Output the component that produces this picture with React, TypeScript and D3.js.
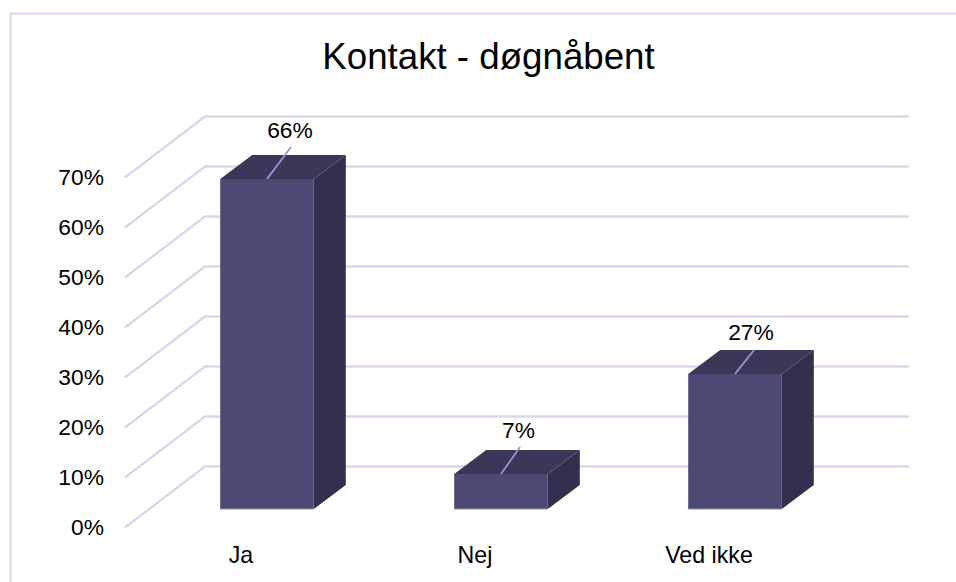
import React from "react";
import * as d3 from "d3";

const categories = ["Ja", "Nej", "Ved ikke"];
const values = [66, 7, 27];
const labels = ["66%", "7%", "27%"];
const ticks = [0, 10, 20, 30, 40, 50, 60, 70];
const title = "Kontakt - døgnåbent";

const W = 956;
const H = 582;
const FONT = "'Liberation Sans', Arial, sans-serif";
const GRID = "#d9d6ee";

export default function App() {
  const x = d3.scaleBand<string>().domain(categories).range([150, 852]).paddingInner(0.6).paddingOuter(0.3);
  // Height of a value in pixels, shared by the three depth planes of the chart.
  const h = d3.scaleLinear().domain([0, 70]).range([0, 350]);
  const frontY = (v: number) => 527.5 - h(v);
  const backY = (v: number) => 466.5 - h(v);
  const barY = (v: number) => 509 - h(v);
  const wallLeft = 205;
  const wallRight = 909;
  const floorLeft = 125;
  const depthX = 32;
  const depthY = -24;
  const bw = x.bandwidth();
  const gridPath = d3.line<[number, number]>();
  const leaderOffset = [[24, -32], [19, -27], [19, -24]];
  const labelOffset = [[23, -41], [17.5, -36], [16, -34]];

  return (
    <svg
      width={W}
      height={H}
      viewBox={`0 0 ${W} ${H}`}
      style={{ position: "absolute", left: 0, top: 0, display: "block", background: "#fff" }}
      fontFamily={FONT}
    >
      <path d={`M10.5,${H} V13.5 H${W}`} fill="none" stroke={GRID} strokeWidth={2} />
      <text x={488.5} y={69} textAnchor="middle" fontSize={36.7} fill="#000">{title}</text>

      {ticks.map((t) => (
        <g key={t}>
          <path
            d={gridPath([[floorLeft, frontY(t)], [wallLeft, backY(t)], [wallRight, backY(t)]]) ?? ""}
            fill="none"
            stroke={GRID}
            strokeWidth={2.4}
          />
          <text x={104} y={frontY(t) + 7.5} textAnchor="end" fontSize={22.8} fill="#000">{t}%</text>
        </g>
      ))}

      {categories.map((c, i) => {
        const x0 = x(c) as number;
        const x1 = x0 + bw;
        const base = barY(0);
        const top = barY(values[i]);
        const cx = x0 + bw / 2;
        return (
          <g key={c}>
            <polygon
              points={`${x1},${top} ${x1 + depthX},${top + depthY} ${x1 + depthX},${base + depthY} ${x1},${base}`}
              fill="#332f4e"
            />
            <polygon
              points={`${x0},${top} ${x0 + depthX},${top + depthY} ${x1 + depthX},${top + depthY} ${x1},${top}`}
              fill="#3c3758"
            />
            <rect x={x0} y={top} width={bw} height={base - top} fill="#4c4975" />
            <path d={`M${x0},${base} H${x1}`} stroke="#8f8cb0" strokeWidth={1} fill="none" />
            <line x1={cx} y1={top} x2={cx + leaderOffset[i][0]} y2={top + leaderOffset[i][1]} stroke="#9a93d8" strokeWidth={1.8} />
            <text x={cx + labelOffset[i][0]} y={top + labelOffset[i][1]} textAnchor="middle" fontSize={22.8} fill="#000">{labels[i]}</text>
            <text x={cx - 26} y={563} textAnchor="middle" fontSize={23.2} fill="#000">{c}</text>
          </g>
        );
      })}
    </svg>
  );
}
